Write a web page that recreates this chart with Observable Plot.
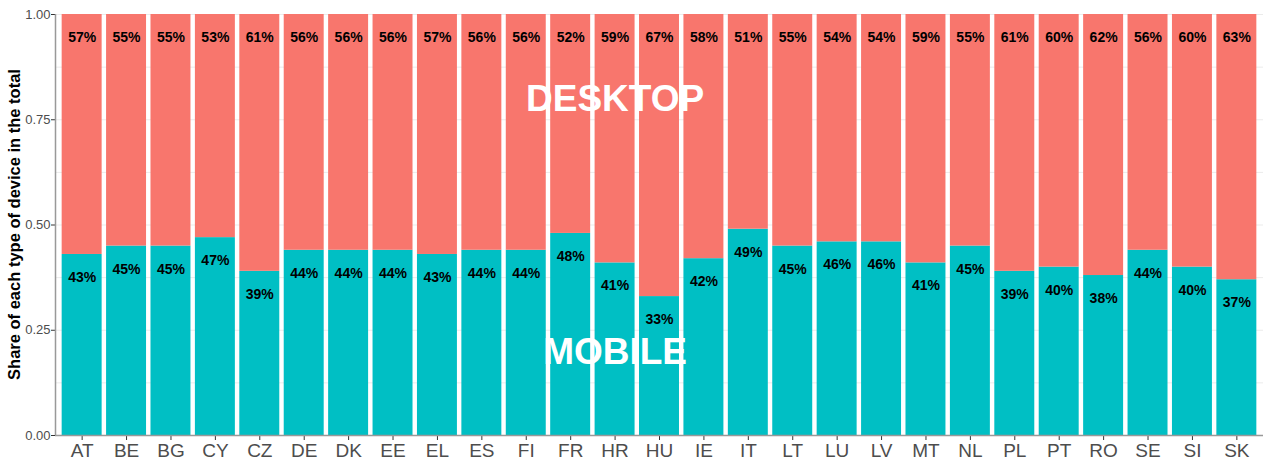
<!DOCTYPE html>
<html>
<head>
<meta charset="utf-8">
<script src="https://cdn.jsdelivr.net/npm/d3@7"></script>
<script src="https://cdn.jsdelivr.net/npm/@observablehq/plot@0.6"></script>
<style>
  body { margin: 0; background: #fff; font-family: "Liberation Sans", Arial, sans-serif; }
  #chart svg { display: block; }
</style>
</head>
<body>
<div id="chart"></div>
<script>
const countries = ["AT","BE","BG","CY","CZ","DE","DK","EE","EL","ES","FI","FR","HR","HU","IE","IT","LT","LU","LV","MT","NL","PL","PT","RO","SE","SI","SK"];
const mobilePct  = [43,45,45,47,39,44,44,44,43,44,44,48,41,33,42,49,45,46,46,41,45,39,40,38,44,40,37];
const desktopPct = [57,55,55,53,61,56,56,56,57,56,56,52,59,67,58,51,55,54,54,59,55,61,60,62,56,60,63];
const yTicks = [0, 0.25, 0.5, 0.75, 1];
const gridLines = [0.125, 0.25, 0.375, 0.5, 0.625, 0.75, 0.875, 1];
const annotations = [
  {label: "DESKTOP", country: "HR", share: 0.80},
  {label: "MOBILE", country: "HR", share: 0.197}
];

const rows = [];
countries.forEach((c, i) => {
  rows.push({country: c, device: "MOBILE", base: 0, top: mobilePct[i] / 100, label: mobilePct[i] + "%"});
  rows.push({country: c, device: "DESKTOP", base: mobilePct[i] / 100, top: (mobilePct[i] + desktopPct[i]) / 100, label: desktopPct[i] + "%"});
});

const chart = Plot.plot({
  width: 1264,
  height: 465,
  marginLeft: 55,
  marginRight: 1,
  marginTop: 14,
  marginBottom: 30,
  style: {fontFamily: "Liberation Sans, Arial, sans-serif", background: "#fff"},
  x: {domain: countries, paddingInner: 0.1, paddingOuter: 0.15, round: false, label: null},
  y: {domain: [0, 1], label: null},
  color: {domain: ["MOBILE", "DESKTOP"], range: ["#00BFC4", "#F8766D"]},
  marks: [
    Plot.ruleY(gridLines, {stroke: "#EBEBEB", strokeWidth: 1}),
    Plot.rectY(rows, {x: "country", y1: "base", y2: "top", fill: "device"}),
    Plot.text(rows, {x: "country", y: "top", text: "label", dy: 23, fill: "black", fontWeight: "bold", fontSize: 14}),
    Plot.text(annotations, {x: "country", y: "share", text: "label", fill: "white", fontWeight: "bold", fontSize: 37}),
    Plot.axisY({ticks: yTicks, tickFormat: d3.format(".2f"), tickSize: 4, tickPadding: 1, fontSize: 13, color: "#4D4D4D", stroke: "#333", label: null}),
    Plot.axisX({tickSize: 5, tickPadding: 3, fontSize: 19, color: "#4D4D4D", stroke: "#333", label: null}),
    Plot.ruleY([0], {stroke: "#999", strokeWidth: 1.5})
  ]
});

const svg = d3.select(chart);
svg.append("line")
  .attr("x1", 55.5).attr("x2", 55.5).attr("y1", 14).attr("y2", 435)
  .attr("stroke", "#999").attr("stroke-width", 1.5);
svg.append("text")
  .attr("transform", "translate(20," + (14 + 421 / 2) + ") rotate(-90)")
  .attr("text-anchor", "middle")
  .attr("font-size", 16.5)
  .attr("font-weight", "bold")
  .attr("fill", "black")
  .text("Share of each type of device in the total");

document.getElementById("chart").appendChild(chart);
</script>
</body>
</html>
